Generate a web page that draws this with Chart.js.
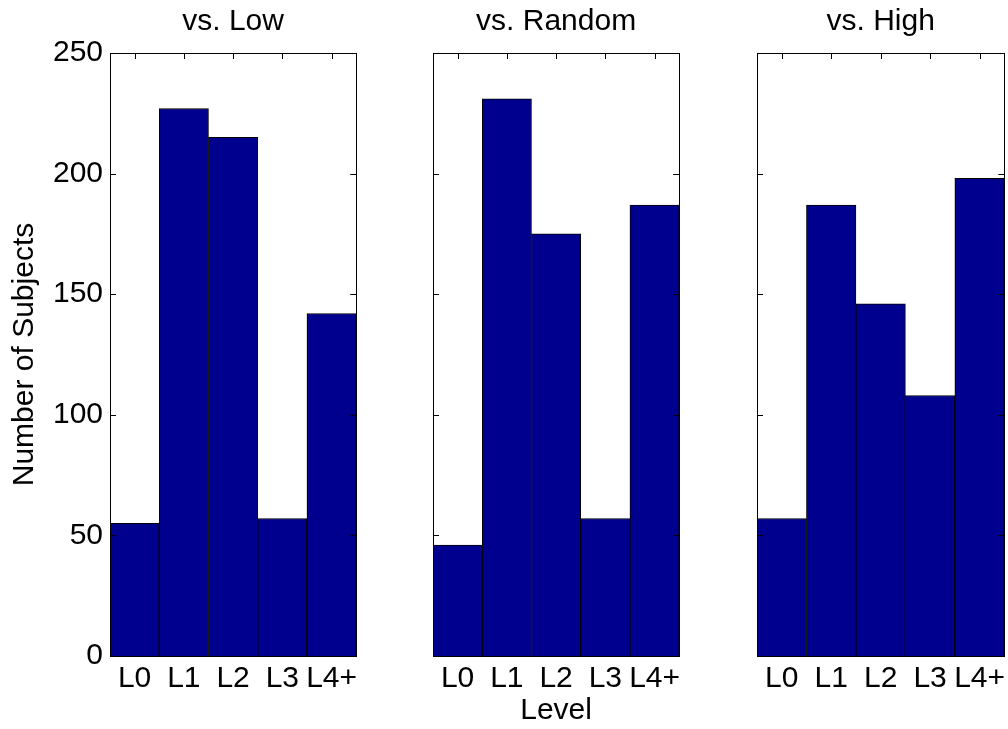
<!DOCTYPE html>
<html>
<head>
<meta charset="utf-8">
<script src="https://cdn.jsdelivr.net/npm/chart.js@4/dist/chart.umd.min.js"></script>
<style>
  body { margin: 0; background: #fff; width: 1008px; height: 729px; overflow: hidden; position: relative; }
  .panel { position: absolute; top: 0; height: 729px; }
</style>
</head>
<body>
<div class="panel" style="left:0;width:366px"><canvas id="c0"></canvas></div>
<div class="panel" style="left:423px;width:266px"><canvas id="c1"></canvas></div>
<div class="panel" style="left:747px;width:267px"><canvas id="c2"></canvas></div>
<script>
const levels = ['L0', 'L1', 'L2', 'L3', 'L4+'];
const vsLow = [55, 227, 215, 57, 142];
const vsRandom = [46, 231, 175, 57, 187];
const vsHigh = [57, 187, 146, 108, 198];
const yTicks = [0, 50, 100, 150, 200, 250];
const panelTitles = ['vs. Low', 'vs. Random', 'vs. High'];

Chart.defaults.font.family = '"Liberation Sans", Arial, Helvetica, sans-serif';
Chart.defaults.color = '#000';

// matlab style box with inward ticks
const framePlugin = {
  id: 'frame',
  afterDraw(chart) {
    const { ctx, chartArea: a, scales: { x, y } } = chart;
    ctx.save();
    ctx.strokeStyle = '#000';
    ctx.lineWidth = 1;
    ctx.strokeRect(Math.round(a.left) + 0.5, Math.round(a.top) + 0.5,
      Math.round(a.right - a.left), Math.round(a.bottom - a.top));
    ctx.beginPath();
    y.ticks.forEach(t => {
      if (t.value <= yTicks[0] || t.value >= yTicks[yTicks.length - 1]) return;
      const py = Math.round(y.getPixelForValue(t.value)) + 0.5;
      ctx.moveTo(a.left, py); ctx.lineTo(a.left + 6, py);
      ctx.moveTo(a.right, py); ctx.lineTo(a.right - 6, py);
    });
    levels.forEach((_, i) => {
      const px = Math.round(x.getPixelForValue(i)) + 0.5;
      ctx.moveTo(px, a.top); ctx.lineTo(px, a.top + 6);
    });
    ctx.stroke();
    ctx.restore();
  }
};

const makeChart = (id, values, idx, axisW) => new Chart(document.getElementById(id), {
  type: 'bar',
  data: {
    labels: levels,
    datasets: [{
      data: values,
      backgroundColor: '#00008f',
      borderColor: '#000',
      borderWidth: 1,
      categoryPercentage: 1,
      barPercentage: 1
    }]
  },
  options: {
    responsive: true,
    maintainAspectRatio: false,
    animation: false,
    layout: { padding: { right: 4 } },
    plugins: {
      legend: { display: false },
      tooltip: { enabled: false },
      title: {
        display: true,
        text: panelTitles[idx],
        fullSize: false,
        font: { size: 30, weight: 'normal', lineHeight: 1 },
        padding: { top: 7, bottom: 16 }
      }
    },
    scales: {
      x: {
        grid: { display: false, drawTicks: false },
        border: { display: false },
        ticks: { font: { size: 30, lineHeight: 1 }, padding: 8, maxRotation: 0, autoSkip: false },
        title: {
          display: idx === 1,
          text: 'Level',
          font: { size: 30, lineHeight: 1 },
          padding: { top: 0, bottom: 3 }
        },
        afterFit(scale) { scale.height = 73; }
      },
      y: {
        min: yTicks[0],
        max: yTicks[yTicks.length - 1],
        grid: { display: false, drawTicks: false },
        border: { display: false },
        ticks: { display: idx === 0, stepSize: yTicks[1] - yTicks[0], font: { size: 30, lineHeight: 1 }, padding: 7 },
        title: {
          display: idx === 0,
          text: 'Number of Subjects',
          font: { size: 30, lineHeight: 1 },
          padding: { top: 10 }
        },
        afterFit(scale) { scale.width = axisW; }
      }
    }
  },
  plugins: [framePlugin]
});

makeChart('c0', vsLow, 0, 110);
makeChart('c1', vsRandom, 1, 10);
makeChart('c2', vsHigh, 2, 10);
</script>
</body>
</html>
